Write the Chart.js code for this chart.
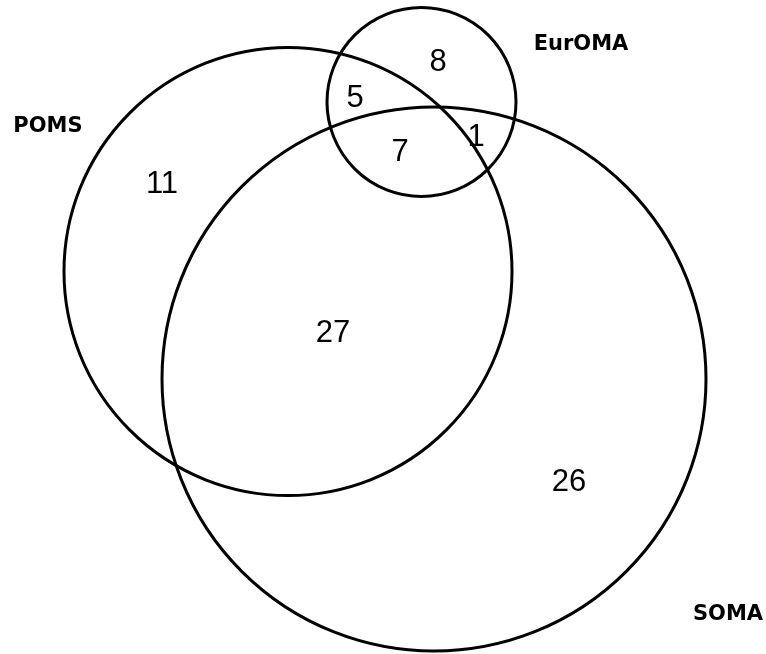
<!DOCTYPE html>
<html>
<head>
<meta charset="utf-8">
<script src="https://cdn.jsdelivr.net/npm/chart.js@4/dist/chart.umd.min.js"></script>
<style>
  html, body { margin: 0; padding: 0; background: #fff; }
  #venn { display: block; }
</style>
</head>
<body>
<canvas id="venn" width="766" height="654"></canvas>
<script>
// sets (centre x, centre y, radius) in page units
const setNames = ['POMS', 'SOMA', 'EurOMA'];
const setX = [288, 434, 421.5];
const setY = [271.5, 379, 102];
const setR = [224, 272, 94.5];

// set name labels
const nameX = [48, 728, 581];
const nameY = [127, 615, 45];

// region counts
const counts = ['8', '5', '7', '1', '11', '27', '26'];
const countX = [438, 355, 400, 476, 162, 333, 569];
const countY = [62, 98, 152, 137, 184, 333, 482];

// circles and text, placed through the chart's scales
const vennPlugin = {
  id: 'venn',
  afterDatasetsDraw(chart) {
    const { ctx, scales: { x, y } } = chart;
    ctx.save();

    ctx.strokeStyle = '#000';
    ctx.lineWidth = 3;
    setX.forEach((cx, i) => {
      const px = x.getPixelForValue(cx);
      const py = y.getPixelForValue(setY[i]);
      const pr = x.getPixelForValue(setR[i]) - x.getPixelForValue(0);
      ctx.beginPath();
      ctx.arc(px, py, pr, 0, Math.PI * 2);
      ctx.stroke();
    });

    ctx.fillStyle = '#000';
    ctx.textAlign = 'center';
    ctx.textBaseline = 'middle';

    ctx.font = 'bold 21px "Comic Sans MS", "DejaVu Sans", sans-serif';
    setNames.forEach((n, i) => {
      ctx.fillText(n, x.getPixelForValue(nameX[i]), y.getPixelForValue(nameY[i]));
    });

    ctx.font = '31px "Liberation Sans", Arial, sans-serif';
    counts.forEach((c, i) => {
      ctx.fillText(c, x.getPixelForValue(countX[i]), y.getPixelForValue(countY[i]));
    });
    ctx.restore();
  }
};

new Chart(document.getElementById('venn'), {
  type: 'scatter',
  data: {
    datasets: [{
      data: setX.map((v, i) => ({ x: v, y: setY[i] })),
      pointRadius: 0,
      showLine: false,
    }],
  },
  options: {
    responsive: false,
    animation: false,
    events: [],
    layout: { padding: 0 },
    plugins: {
      legend: { display: false },
      tooltip: { enabled: false },
    },
    scales: {
      x: { type: 'linear', min: 0, max: 766, display: false },
      y: { type: 'linear', min: 0, max: 654, reverse: true, display: false },
    },
  },
  plugins: [vennPlugin],
});
</script>
</body>
</html>
